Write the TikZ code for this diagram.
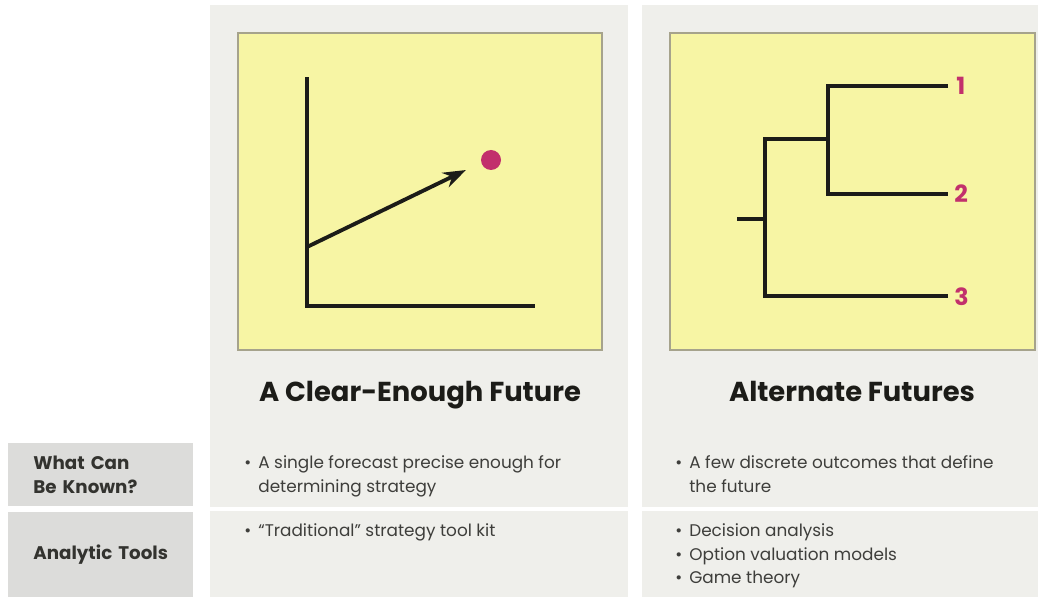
\documentclass[tikz,border=0pt]{standalone}
\usepackage{fontspec}
\setmainfont{Poppins}
\usetikzlibrary{arrows.meta}

\definecolor{panelgrey}{HTML}{EFEFEB}
\definecolor{rowgrey}{HTML}{DCDCDA}
\definecolor{chartyellow}{HTML}{F7F5A4}
\definecolor{boxedge}{HTML}{A6A38C}
\definecolor{outcomered}{HTML}{C2306C}
\definecolor{ink}{HTML}{1C1C18}

\begin{document}
\begin{tikzpicture}[x=0.02cm, y=-0.02cm, >=Stealth,
    axis/.style={line width=2.8pt, ink, line cap=rect},
    branch/.style={line width=2.4pt, ink},
    chartbox/.style={fill=chartyellow, draw=boxedge, line width=0.6pt},
    title/.style={anchor=base, font=\fontsize{15.6}{18}\selectfont\bfseries, text=ink, inner sep=0pt},
    rowbox/.style={fill=rowgrey, anchor=north west, minimum width=3.7cm, text width=2.7cm,
        inner xsep=0.5cm, align=left, font=\fontsize{10.4}{13.6}\selectfont\bfseries, text=ink!90},
    bodytext/.style={anchor=north west, align=left, inner sep=0pt,
        font=\fontsize{9.6}{13.6}\selectfont, text=ink!85},
    outcome/.style={right, inner sep=0pt, text=outcomered, font=\fontsize{13.5}{15}\selectfont\bfseries}]
    \useasboundingbox (0,0) rectangle (1038,597);
    \fill[white] (0,0) rectangle (1038,597);

    % Spalten
    \fill[panelgrey] (210,5) rectangle (628,597);
    \fill[panelgrey] (642,5) rectangle (1038,597);
    \fill[white] (210,507) rectangle (1038,511);

    % Zeilenköpfe
    \node[rowbox, minimum height=1.26cm] (known) at (8,443) {What Can\\Be Known?};
    \node[rowbox, minimum height=1.7cm] (tools) at (8,512) {Analytic Tools};

    % Diagramm links: eine Prognose
    \draw[chartbox] (238,33) rectangle (602,350);
    \coordinate (ytop) at (307,79);
    \coordinate (origin) at (307,306);
    \coordinate (xend) at (533,306);
    \coordinate (trendstart) at (307,247);
    \coordinate (trendtip) at (466,170);
    \draw[axis] (ytop) -- (origin) -- (xend);
    \draw[->, line width=2.2pt, ink, arrows={-Stealth[length=13pt, width=9pt]}] (trendstart) -- (trendtip);
    \node[circle, fill=outcomered, minimum size=0.4cm, inner sep=0pt] (forecast) at (491,160) {};

    % Diagramm rechts: Entscheidungsbaum
    \draw[chartbox] (670,33) rectangle (1035,350);
    \coordinate (root) at (737,219);
    \coordinate (fork) at (765,219);
    \coordinate (forktop) at (765,139);
    \coordinate (subfork) at (828,139);
    \node[outcome] (out1) at (956,86) {1};
    \node[outcome] (out2) at (954,194) {2};
    \node[outcome] (out3) at (954,297) {3};
    \draw[branch] (root) -- (fork);
    \draw[branch] (948,296) -| (forktop) -- (subfork);
    \draw[branch] (948,86) -| (828,194) -- (948,194);

    % Titel
    \node[title] (cleartitle) at (420,402) {A Clear-Enough Future};
    \node[title] (altertitle) at (852,402) {Alternate Futures};

    % Texte
    \node[bodytext] (clearknown) at (258,455) {\llap{\textbullet\hspace{4pt}}A single forecast precise enough for\\determining strategy};
    \node[bodytext] (cleartools) at (258,523) {\llap{\textbullet\hspace{4pt}}``Traditional'' strategy tool kit};
    \node[bodytext] (alterknown) at (689,455) {\llap{\textbullet\hspace{4pt}}A few discrete outcomes that define\\the future};
    \node[bodytext] (altertools) at (689,523) {\llap{\textbullet\hspace{4pt}}Decision analysis\\\llap{\textbullet\hspace{4pt}}Option valuation models\\\llap{\textbullet\hspace{4pt}}Game theory};
\end{tikzpicture}
\end{document}
